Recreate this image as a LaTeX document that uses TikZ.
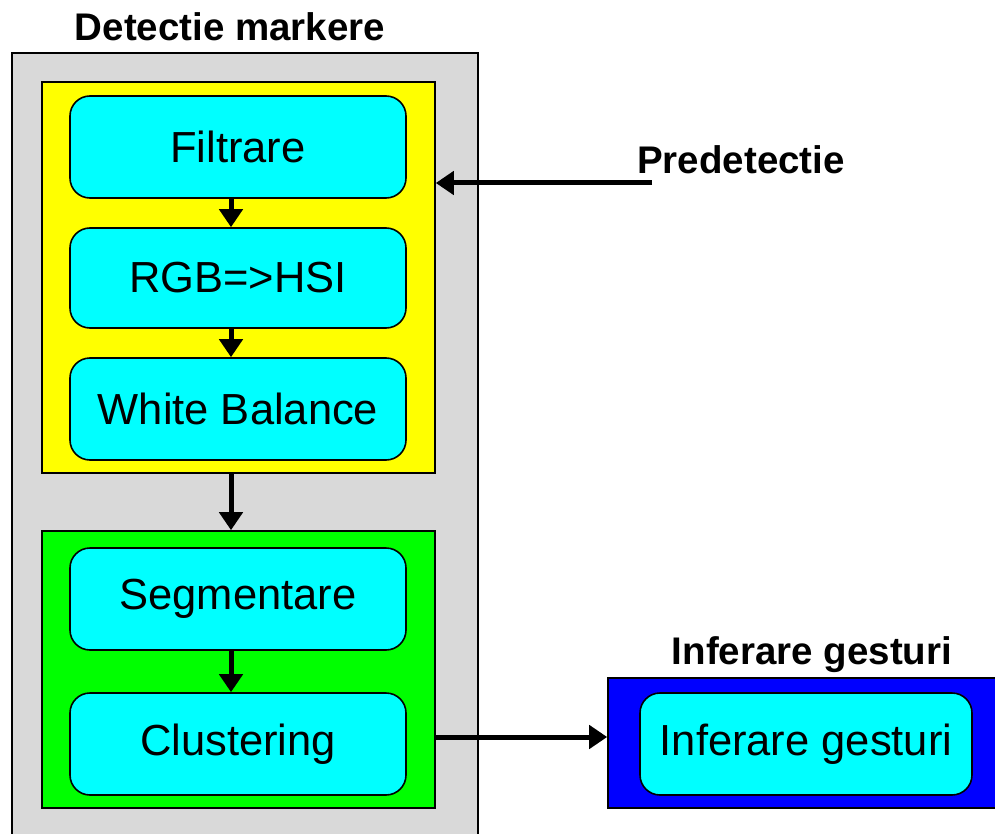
\documentclass[tikz,border=0pt]{standalone}
\usepackage{fontspec}
\setmainfont{Liberation Sans}
\usetikzlibrary{arrows.meta}

\definecolor{sivo}{RGB}{217,217,217}
\definecolor{zuta}{RGB}{255,255,0}
\definecolor{zelena}{RGB}{0,255,0}
\definecolor{plava}{RGB}{0,0,255}
\definecolor{cijan}{RGB}{0,255,255}

\tikzset{
	okvir/.style={draw=black,line width=1.6pt,minimum width=#1},
	blok/.style={draw=black,line width=1.6pt,fill=cijan,rounded corners=20pt,
		minimum width=336pt,minimum height=102pt,inner sep=0pt,
		font=\fontsize{43.5}{50}\selectfont},
	natpis/.style={font=\fontsize{38.5}{46}\selectfont\bfseries},
	strelica/.style={line width=5pt,-{Triangle[length=18pt,width=23pt]}}
}

\begin{document}
\begin{tikzpicture}[x=1pt,y=-1pt]
	\clip (0,0) rectangle (995,834);
	\fill[white] (0,0) rectangle (995,834);

	% okviri
	\node (markere) [okvir=466pt,fill=sivo,minimum height=794pt] at (245,450) {};
	\node (pre) [okvir=393pt,fill=zuta,minimum height=391pt] at (238.5,277.5) {};
	\node (green) [okvir=393pt,fill=zelena,minimum height=277pt] at (238.5,669.5) {};
	\node (gesturi) [okvir=402pt,fill=plava,minimum height=130pt] at (809,743) {};

	% blokovi
	\node (filtrare) [blok] at (238,147) {Filtrare};
	\node (rgb) [blok,minimum height=100pt] at (238,278) {RGB=>HSI};
	\node (wb) [blok] at (238,409) {White Balance};
	\node (segm) [blok] at (238,599) {Segmentare};
	\node (clust) [blok] at (238,744) {Clustering};
	\node (infer) [blok,minimum width=332pt] at (806,744) {Inferare gesturi};

	\node (lmarkere) [natpis] at (230,27) {Detectie markere};
	\node (lpred) [natpis] at (741,160) {Predetectie};
	\node (lgest) [natpis] at (812,655) {Inferare gesturi};

	\coordinate (os) at (231,0);
	\coordinate (predkraj) at (652,183);
	\coordinate (izlaz) at (0,737);

	\foreach \a/\b in {filtrare/rgb,rgb/wb,pre/green,segm/clust} {
		\draw[strelica] (\a.south -| os) -- (\b.north -| os);
	}
	\draw[strelica] (predkraj) -- (pre.east |- predkraj);
	\draw[strelica] (green.east |- izlaz) -- (gesturi.west |- izlaz);
\end{tikzpicture}
\end{document}
